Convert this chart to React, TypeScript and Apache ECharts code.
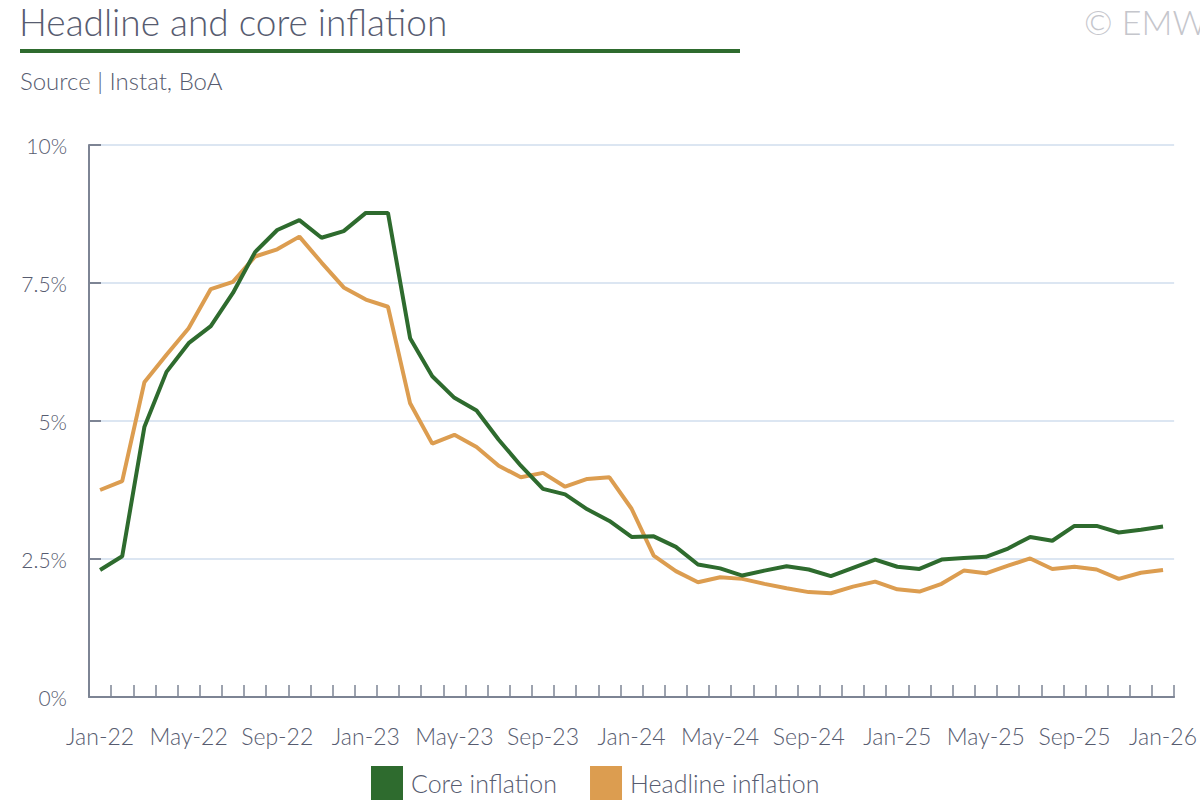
import React, { useEffect, useRef } from "react";
import * as echarts from "echarts";

const categories: string[] = [];
const monthNames = ["Jan", "Feb", "Mar", "Apr", "May", "Jun", "Jul", "Aug", "Sep", "Oct", "Nov", "Dec"];
for (let y = 22; y <= 26; y++) {
  for (let m = 0; m < 12; m++) {
    if (y === 26 && m > 0) break;
    categories.push(`${monthNames[m]}-${y}`);
  }
}

const coreInflation = [
  2.30, 2.55, 4.89, 5.89, 6.41, 6.72, 7.32, 8.06, 8.46, 8.64, 8.32, 8.44,
  8.77, 8.77, 6.50, 5.81, 5.42, 5.19, 4.66, 4.19, 3.77, 3.67, 3.40, 3.19,
  2.90, 2.91, 2.72, 2.40, 2.33, 2.20, 2.29, 2.37, 2.31, 2.19, 2.34, 2.49,
  2.36, 2.32, 2.49, 2.52, 2.54, 2.69, 2.90, 2.83, 3.10, 3.10, 2.98, 3.03,
  3.09,
];

const headlineInflation = [
  3.75, 3.91, 5.70, 6.20, 6.68, 7.39, 7.52, 7.98, 8.11, 8.34, 7.87, 7.42,
  7.20, 7.07, 5.32, 4.59, 4.75, 4.53, 4.19, 3.98, 4.06, 3.81, 3.95, 3.98,
  3.41, 2.56, 2.28, 2.08, 2.17, 2.14, 2.05, 1.97, 1.90, 1.88, 2.00, 2.09,
  1.95, 1.91, 2.05, 2.29, 2.24, 2.38, 2.51, 2.32, 2.36, 2.31, 2.14, 2.25,
  2.30,
];

const yTicks = [0, 2.5, 5, 7.5, 10];

const FONT = "Lato";
const TEXT = "#575c70";
const GREEN = "#2e6b2e";
const ORANGE = "#dc9d50";

export default function App() {
  const ref = useRef<HTMLDivElement>(null);
  useEffect(() => {
    if (!ref.current) return;
    const chart = echarts.init(ref.current, undefined, { renderer: "svg" });
    chart.setOption({
      animation: false,
      backgroundColor: "#ffffff",
      textStyle: { fontFamily: FONT },
      graphic: [
        {
          type: "text",
          left: 19,
          top: 3,
          style: { text: "Headline and core inflation", fontSize: 37, fontFamily: FONT, fill: TEXT, fontWeight: 300 },
        },
        {
          type: "rect",
          shape: { x: 20, y: 49, width: 720, height: 4 },
          style: { fill: GREEN },
        },
        {
          type: "text",
          left: 20,
          top: 68,
          style: { text: "Source | Instat, BoA", fontSize: 24, fontFamily: FONT, fill: TEXT, fontWeight: 300 },
        },
        {
          type: "text",
          left: 1084,
          top: 4,
          style: { text: "© EMW", fontSize: 34, fontFamily: FONT, fill: "#c5c6cc", fontWeight: 300 },
        },
      ],
      legend: {
        top: 761,
        left: 366,
        itemWidth: 32,
        itemHeight: 34,
        itemGap: 33,
        icon: "rect",
        textStyle: { fontSize: 25, color: TEXT, fontFamily: FONT, fontWeight: 300, padding: [0, 0, 0, 3] },
        data: ["Core inflation", "Headline inflation"],
      },
      grid: { left: 89, right: 21, top: 145, bottom: 103, containLabel: false },
      xAxis: {
        type: "category",
        data: categories,
        boundaryGap: true,
        axisLine: { lineStyle: { color: "#7d8494", width: 2 } },
        axisTick: { show: true, inside: true, length: 12, interval: 0, lineStyle: { color: "#7d8494", width: 1.5 } },
        axisLabel: { interval: 3, margin: 27, fontSize: 23, color: TEXT, fontFamily: FONT, fontWeight: 300 },
        splitLine: { show: false },
      },
      yAxis: {
        type: "value",
        min: yTicks[0],
        max: yTicks[yTicks.length - 1],
        interval: 2.5,
        axisLine: { show: true, lineStyle: { color: "#7d8494", width: 2 } },
        axisTick: { show: true, inside: true, length: 12, lineStyle: { color: "#7d8494", width: 2 } },
        axisLabel: { margin: 22, fontSize: 21, color: TEXT, fontFamily: FONT, fontWeight: 300, formatter: (v: number) => `${v}%` },
        splitLine: { show: true, lineStyle: { color: "#dce6f2", width: 2 } },
      },
      series: [
        {
          name: "Core inflation",
          type: "line",
          data: coreInflation,
          showSymbol: false,
          symbol: "none",
          lineStyle: { color: GREEN, width: 4 },
          itemStyle: { color: GREEN },
          z: 3,
        },
        {
          name: "Headline inflation",
          type: "line",
          data: headlineInflation,
          showSymbol: false,
          symbol: "none",
          lineStyle: { color: ORANGE, width: 4 },
          itemStyle: { color: ORANGE },
          z: 2,
        },
      ],
    });
    return () => chart.dispose();
  }, []);
  return (
    <div
      ref={ref}
      style={{ position: "absolute", left: 0, top: 0, width: 1200, height: 800, overflow: "hidden" }}
    />
  );
}
